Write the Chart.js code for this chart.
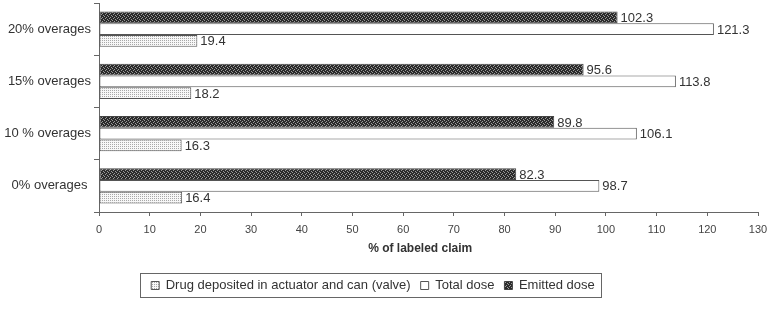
<!DOCTYPE html>
<html>
<head>
<meta charset="utf-8">
<script src="https://cdn.jsdelivr.net/npm/chart.js@4/dist/chart.umd.min.js"></script>
<style>
  body { margin: 0; background: #fff; }
</style>
</head>
<body>
<canvas id="chart" width="769" height="312"></canvas>
<script>
const categories = ['20% overages', '15% overages', '10 % overages', '0% overages '];
const emittedDose = [102.3, 95.6, 89.8, 82.3];
const totalDose = [121.3, 113.8, 106.1, 98.7];
const depositedDose = [19.4, 18.2, 16.3, 16.4];
const xTicks = { min: 0, max: 130, step: 10 };

function makePattern(size, bg, fg, dots) {
    const c = document.createElement('canvas');
    c.width = size; c.height = size;
    const g = c.getContext('2d');
    g.fillStyle = bg;
    g.fillRect(0, 0, size, size);
    g.fillStyle = fg;
    dots.forEach(d => g.fillRect(d[0], d[1], 1, 1));
    return g.createPattern(c, 'repeat');
}

const ctx = document.getElementById('chart').getContext('2d');
const darkHatch = makePattern(4, '#2b2b2b', '#9a9a9a', [[0, 0], [2, 1], [1, 2], [3, 3]]);
const lightDots = makePattern(4, '#f7f7f7', '#a8a8a8', [[0, 0], [2, 2], [2, 0], [0, 2]]);

Chart.defaults.font.family = '"Liberation Sans", Arial, sans-serif';
Chart.defaults.color = '#333';

// values next to the bar ends
const valueLabels = {
    id: 'valueLabels',
    afterDatasetsDraw(chart) {
        const c = chart.ctx;
        c.save();
        c.font = '13px "Liberation Sans", Arial, sans-serif';
        c.fillStyle = '#333';
        c.textBaseline = 'middle';
        c.textAlign = 'left';
        chart.data.datasets.forEach((ds, i) => {
            chart.getDatasetMeta(i).data.forEach((bar, j) => {
                c.fillText(ds.data[j].toFixed(1), bar.x + 3, bar.y + 1);
            });
        });
        c.restore();
    }
};

// nudge the legend a bit left and frame it
const legendBox = {
    id: 'legendBox',
    afterLayout(chart) {
        chart.legend.left -= 6;
        chart.legend.right -= 6;
    },
    afterDraw(chart) {
        const boxes = chart.legend.legendHitBoxes;
        if (!boxes || !boxes.length) return;
        const first = boxes[0], last = boxes[boxes.length - 1];
        const c = chart.ctx;
        c.save();
        c.strokeStyle = '#666';
        c.lineWidth = 1;
        const x0 = Math.round(first.left - 11) + 0.5;
        const x1 = Math.round(last.left + last.width + 6) + 0.5;
        const y0 = Math.round(first.top - 6) + 0.5;
        const y1 = Math.round(first.top + first.height + 5) + 0.5;
        c.strokeRect(x0, y0, x1 - x0, y1 - y0);
        c.restore();
    }
};

new Chart(ctx, {
    type: 'bar',
    data: {
        labels: categories,
        datasets: [{
            label: 'Emitted dose',
            data: emittedDose,
            backgroundColor: darkHatch,
            borderColor: '#444',
            borderWidth: 1,
            borderSkipped: false
        }, {
            label: 'Total dose',
            data: totalDose,
            backgroundColor: '#fff',
            borderColor: '#555',
            borderWidth: 1,
            borderSkipped: false
        }, {
            label: 'Drug deposited in actuator and can (valve)',
            data: depositedDose,
            backgroundColor: lightDots,
            borderColor: '#555',
            borderWidth: 1,
            borderSkipped: false
        }]
    },
    options: {
        indexAxis: 'y',
        responsive: false,
        animation: false,
        barPercentage: 1,
        categoryPercentage: 0.67,
        layout: { padding: { top: 3, right: 11, bottom: 10, left: 0 } },
        scales: {
            x: {
                min: xTicks.min,
                max: xTicks.max,
                afterFit(scale) {
                    scale.height = 57;
                    scale.paddingLeft = 0;
                    scale.paddingRight = 0;
                },
                ticks: { stepSize: xTicks.step, font: { size: 11 }, color: '#444', padding: 7 },
                grid: { drawOnChartArea: false, tickLength: 4, color: '#666' },
                border: { color: '#666' },
                title: {
                    display: true,
                    // trailing spaces pull the centred title a little left, as in the original
                    text: '% of labeled claim     ',
                    font: { size: 12, weight: 'bold' },
                    color: '#333',
                    padding: { top: 0, bottom: 13 }
                }
            },
            y: {
                afterFit(scale) {
                    scale.width = 99;
                    scale.paddingTop = 0;
                    scale.paddingBottom = 0;
                },
                ticks: { font: { size: 13 }, color: '#333', padding: 3 },
                grid: { drawOnChartArea: false, offset: true, tickLength: 5, color: '#666' },
                border: { color: '#666' }
            }
        },
        plugins: {
            legend: {
                position: 'bottom',
                reverse: true,
                labels: {
                    boxWidth: 8,
                    boxHeight: 8,
                    padding: 10,
                    font: { size: 13 },
                    color: '#333'
                }
            },
            tooltip: { enabled: false }
        }
    },
    plugins: [valueLabels, legendBox]
});
</script>
</body>
</html>
